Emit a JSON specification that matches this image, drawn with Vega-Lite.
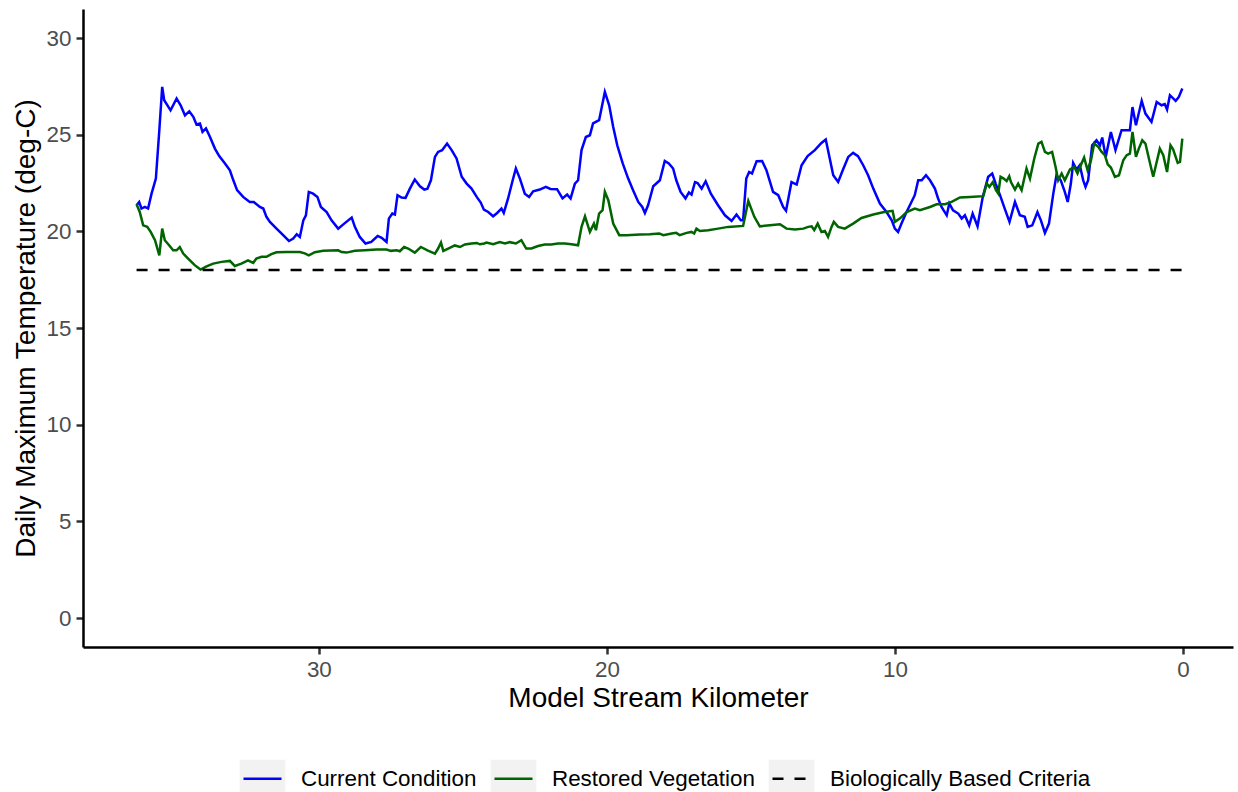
{
"$schema": "https://vega.github.io/schema/vega-lite/v6.json",
"width": 1150, "height": 638,
"autosize": "none",
"padding": {"left": 83, "top": 9, "right": 5, "bottom": 145},
"background": "white",
"config": {"view": {"stroke": null}, "font": "Liberation Sans"},
"data": {"values": [
{"km":36.33,"t":21.35,"s":"Current Condition"},{"km":36.24,"t":21.52,"s":"Current Condition"},{"km":36.16,"t":21.18,"s":"Current Condition"},{"km":36.04,"t":21.26,"s":"Current Condition"},{"km":35.93,"t":21.18,"s":"Current Condition"},{"km":35.81,"t":21.95,"s":"Current Condition"},{"km":35.66,"t":22.73,"s":"Current Condition"},{"km":35.54,"t":25.23,"s":"Current Condition"},{"km":35.44,"t":27.47,"s":"Current Condition"},{"km":35.37,"t":26.78,"s":"Current Condition"},{"km":35.15,"t":26.26,"s":"Current Condition"},{"km":34.94,"t":26.87,"s":"Current Condition"},{"km":34.80,"t":26.52,"s":"Current Condition"},{"km":34.65,"t":26.00,"s":"Current Condition"},{"km":34.50,"t":26.21,"s":"Current Condition"},{"km":34.36,"t":25.92,"s":"Current Condition"},{"km":34.25,"t":25.53,"s":"Current Condition"},{"km":34.13,"t":25.58,"s":"Current Condition"},{"km":34.04,"t":25.14,"s":"Current Condition"},{"km":33.92,"t":25.32,"s":"Current Condition"},{"km":33.78,"t":24.88,"s":"Current Condition"},{"km":33.61,"t":24.28,"s":"Current Condition"},{"km":33.46,"t":23.89,"s":"Current Condition"},{"km":33.26,"t":23.51,"s":"Current Condition"},{"km":33.09,"t":23.16,"s":"Current Condition"},{"km":32.97,"t":22.64,"s":"Current Condition"},{"km":32.84,"t":22.13,"s":"Current Condition"},{"km":32.63,"t":21.78,"s":"Current Condition"},{"km":32.40,"t":21.52,"s":"Current Condition"},{"km":32.26,"t":21.52,"s":"Current Condition"},{"km":32.05,"t":21.26,"s":"Current Condition"},{"km":31.93,"t":21.18,"s":"Current Condition"},{"km":31.82,"t":20.75,"s":"Current Condition"},{"km":31.70,"t":20.49,"s":"Current Condition"},{"km":31.47,"t":20.14,"s":"Current Condition"},{"km":31.24,"t":19.80,"s":"Current Condition"},{"km":31.04,"t":19.50,"s":"Current Condition"},{"km":30.89,"t":19.63,"s":"Current Condition"},{"km":30.77,"t":19.85,"s":"Current Condition"},{"km":30.66,"t":19.71,"s":"Current Condition"},{"km":30.54,"t":20.57,"s":"Current Condition"},{"km":30.45,"t":20.83,"s":"Current Condition"},{"km":30.35,"t":22.04,"s":"Current Condition"},{"km":30.20,"t":21.95,"s":"Current Condition"},{"km":30.05,"t":21.78,"s":"Current Condition"},{"km":29.93,"t":21.26,"s":"Current Condition"},{"km":29.73,"t":21.00,"s":"Current Condition"},{"km":29.56,"t":20.57,"s":"Current Condition"},{"km":29.33,"t":20.14,"s":"Current Condition"},{"km":29.12,"t":20.40,"s":"Current Condition"},{"km":28.86,"t":20.71,"s":"Current Condition"},{"km":28.75,"t":20.23,"s":"Current Condition"},{"km":28.58,"t":19.71,"s":"Current Condition"},{"km":28.38,"t":19.37,"s":"Current Condition"},{"km":28.18,"t":19.45,"s":"Current Condition"},{"km":27.96,"t":19.76,"s":"Current Condition"},{"km":27.82,"t":19.66,"s":"Current Condition"},{"km":27.65,"t":19.45,"s":"Current Condition"},{"km":27.57,"t":20.66,"s":"Current Condition"},{"km":27.45,"t":20.92,"s":"Current Condition"},{"km":27.36,"t":20.87,"s":"Current Condition"},{"km":27.27,"t":21.87,"s":"Current Condition"},{"km":27.13,"t":21.75,"s":"Current Condition"},{"km":26.99,"t":21.73,"s":"Current Condition"},{"km":26.84,"t":22.21,"s":"Current Condition"},{"km":26.67,"t":22.68,"s":"Current Condition"},{"km":26.49,"t":22.33,"s":"Current Condition"},{"km":26.34,"t":22.16,"s":"Current Condition"},{"km":26.23,"t":22.21,"s":"Current Condition"},{"km":26.11,"t":22.64,"s":"Current Condition"},{"km":25.97,"t":23.85,"s":"Current Condition"},{"km":25.86,"t":24.11,"s":"Current Condition"},{"km":25.72,"t":24.20,"s":"Current Condition"},{"km":25.55,"t":24.54,"s":"Current Condition"},{"km":25.39,"t":24.20,"s":"Current Condition"},{"km":25.22,"t":23.77,"s":"Current Condition"},{"km":25.04,"t":22.82,"s":"Current Condition"},{"km":24.87,"t":22.47,"s":"Current Condition"},{"km":24.70,"t":22.21,"s":"Current Condition"},{"km":24.52,"t":21.78,"s":"Current Condition"},{"km":24.38,"t":21.49,"s":"Current Condition"},{"km":24.27,"t":21.12,"s":"Current Condition"},{"km":24.12,"t":21.00,"s":"Current Condition"},{"km":23.95,"t":20.78,"s":"Current Condition"},{"km":23.81,"t":20.95,"s":"Current Condition"},{"km":23.66,"t":21.18,"s":"Current Condition"},{"km":23.58,"t":20.95,"s":"Current Condition"},{"km":23.43,"t":21.70,"s":"Current Condition"},{"km":23.27,"t":22.64,"s":"Current Condition"},{"km":23.16,"t":23.25,"s":"Current Condition"},{"km":23.02,"t":22.73,"s":"Current Condition"},{"km":22.85,"t":21.95,"s":"Current Condition"},{"km":22.70,"t":21.78,"s":"Current Condition"},{"km":22.56,"t":22.07,"s":"Current Condition"},{"km":22.33,"t":22.16,"s":"Current Condition"},{"km":22.12,"t":22.30,"s":"Current Condition"},{"km":21.96,"t":22.19,"s":"Current Condition"},{"km":21.73,"t":22.18,"s":"Current Condition"},{"km":21.54,"t":21.70,"s":"Current Condition"},{"km":21.38,"t":21.90,"s":"Current Condition"},{"km":21.26,"t":21.70,"s":"Current Condition"},{"km":21.11,"t":22.47,"s":"Current Condition"},{"km":21.00,"t":22.64,"s":"Current Condition"},{"km":20.88,"t":24.20,"s":"Current Condition"},{"km":20.73,"t":24.88,"s":"Current Condition"},{"km":20.59,"t":24.97,"s":"Current Condition"},{"km":20.48,"t":25.58,"s":"Current Condition"},{"km":20.27,"t":25.75,"s":"Current Condition"},{"km":20.07,"t":27.21,"s":"Current Condition"},{"km":19.92,"t":26.52,"s":"Current Condition"},{"km":19.78,"t":25.40,"s":"Current Condition"},{"km":19.64,"t":24.45,"s":"Current Condition"},{"km":19.45,"t":23.51,"s":"Current Condition"},{"km":19.26,"t":22.73,"s":"Current Condition"},{"km":19.09,"t":22.13,"s":"Current Condition"},{"km":18.91,"t":21.52,"s":"Current Condition"},{"km":18.77,"t":21.26,"s":"Current Condition"},{"km":18.68,"t":20.95,"s":"Current Condition"},{"km":18.57,"t":21.35,"s":"Current Condition"},{"km":18.39,"t":22.33,"s":"Current Condition"},{"km":18.16,"t":22.64,"s":"Current Condition"},{"km":17.99,"t":23.64,"s":"Current Condition"},{"km":17.85,"t":23.51,"s":"Current Condition"},{"km":17.70,"t":23.25,"s":"Current Condition"},{"km":17.59,"t":22.64,"s":"Current Condition"},{"km":17.44,"t":22.04,"s":"Current Condition"},{"km":17.27,"t":21.70,"s":"Current Condition"},{"km":17.15,"t":22.01,"s":"Current Condition"},{"km":17.06,"t":21.90,"s":"Current Condition"},{"km":16.94,"t":22.55,"s":"Current Condition"},{"km":16.85,"t":22.50,"s":"Current Condition"},{"km":16.71,"t":22.21,"s":"Current Condition"},{"km":16.57,"t":22.59,"s":"Current Condition"},{"km":16.39,"t":21.95,"s":"Current Condition"},{"km":16.14,"t":21.35,"s":"Current Condition"},{"km":15.90,"t":20.83,"s":"Current Condition"},{"km":15.67,"t":20.54,"s":"Current Condition"},{"km":15.50,"t":20.87,"s":"Current Condition"},{"km":15.35,"t":20.57,"s":"Current Condition"},{"km":15.27,"t":20.57,"s":"Current Condition"},{"km":15.16,"t":22.73,"s":"Current Condition"},{"km":15.06,"t":23.07,"s":"Current Condition"},{"km":14.96,"t":22.99,"s":"Current Condition"},{"km":14.80,"t":23.63,"s":"Current Condition"},{"km":14.61,"t":23.64,"s":"Current Condition"},{"km":14.46,"t":23.16,"s":"Current Condition"},{"km":14.23,"t":22.04,"s":"Current Condition"},{"km":14.05,"t":21.87,"s":"Current Condition"},{"km":13.88,"t":21.26,"s":"Current Condition"},{"km":13.78,"t":21.06,"s":"Current Condition"},{"km":13.59,"t":22.55,"s":"Current Condition"},{"km":13.41,"t":22.42,"s":"Current Condition"},{"km":13.24,"t":23.42,"s":"Current Condition"},{"km":13.03,"t":23.89,"s":"Current Condition"},{"km":12.78,"t":24.20,"s":"Current Condition"},{"km":12.55,"t":24.57,"s":"Current Condition"},{"km":12.40,"t":24.75,"s":"Current Condition"},{"km":12.14,"t":22.90,"s":"Current Condition"},{"km":11.97,"t":22.55,"s":"Current Condition"},{"km":11.80,"t":23.20,"s":"Current Condition"},{"km":11.62,"t":23.85,"s":"Current Condition"},{"km":11.45,"t":24.06,"s":"Current Condition"},{"km":11.28,"t":23.89,"s":"Current Condition"},{"km":11.10,"t":23.42,"s":"Current Condition"},{"km":10.93,"t":22.90,"s":"Current Condition"},{"km":10.75,"t":22.21,"s":"Current Condition"},{"km":10.52,"t":21.44,"s":"Current Condition"},{"km":10.29,"t":21.00,"s":"Current Condition"},{"km":10.11,"t":20.57,"s":"Current Condition"},{"km":10.00,"t":20.14,"s":"Current Condition"},{"km":9.89,"t":19.97,"s":"Current Condition"},{"km":9.77,"t":20.40,"s":"Current Condition"},{"km":9.62,"t":20.92,"s":"Current Condition"},{"km":9.45,"t":21.44,"s":"Current Condition"},{"km":9.31,"t":21.87,"s":"Current Condition"},{"km":9.19,"t":22.64,"s":"Current Condition"},{"km":9.07,"t":22.64,"s":"Current Condition"},{"km":8.92,"t":22.90,"s":"Current Condition"},{"km":8.78,"t":22.64,"s":"Current Condition"},{"km":8.61,"t":22.21,"s":"Current Condition"},{"km":8.50,"t":21.70,"s":"Current Condition"},{"km":8.38,"t":21.26,"s":"Current Condition"},{"km":8.20,"t":20.83,"s":"Current Condition"},{"km":8.11,"t":21.44,"s":"Current Condition"},{"km":7.98,"t":21.09,"s":"Current Condition"},{"km":7.80,"t":20.92,"s":"Current Condition"},{"km":7.68,"t":20.66,"s":"Current Condition"},{"km":7.57,"t":20.83,"s":"Current Condition"},{"km":7.42,"t":20.31,"s":"Current Condition"},{"km":7.30,"t":20.92,"s":"Current Condition"},{"km":7.13,"t":20.26,"s":"Current Condition"},{"km":6.95,"t":21.78,"s":"Current Condition"},{"km":6.76,"t":22.82,"s":"Current Condition"},{"km":6.62,"t":22.99,"s":"Current Condition"},{"km":6.50,"t":22.47,"s":"Current Condition"},{"km":6.35,"t":21.87,"s":"Current Condition"},{"km":6.18,"t":21.15,"s":"Current Condition"},{"km":6.02,"t":20.49,"s":"Current Condition"},{"km":5.83,"t":21.52,"s":"Current Condition"},{"km":5.66,"t":20.83,"s":"Current Condition"},{"km":5.49,"t":20.75,"s":"Current Condition"},{"km":5.39,"t":20.23,"s":"Current Condition"},{"km":5.23,"t":20.31,"s":"Current Condition"},{"km":5.05,"t":21.00,"s":"Current Condition"},{"km":4.93,"t":20.57,"s":"Current Condition"},{"km":4.79,"t":19.92,"s":"Current Condition"},{"km":4.65,"t":20.40,"s":"Current Condition"},{"km":4.50,"t":21.95,"s":"Current Condition"},{"km":4.39,"t":22.90,"s":"Current Condition"},{"km":4.24,"t":22.64,"s":"Current Condition"},{"km":4.10,"t":22.04,"s":"Current Condition"},{"km":4.00,"t":21.52,"s":"Current Condition"},{"km":3.89,"t":22.47,"s":"Current Condition"},{"km":3.81,"t":23.54,"s":"Current Condition"},{"km":3.69,"t":23.20,"s":"Current Condition"},{"km":3.58,"t":23.42,"s":"Current Condition"},{"km":3.46,"t":22.64,"s":"Current Condition"},{"km":3.38,"t":22.30,"s":"Current Condition"},{"km":3.29,"t":22.64,"s":"Current Condition"},{"km":3.15,"t":24.45,"s":"Current Condition"},{"km":3.00,"t":24.71,"s":"Current Condition"},{"km":2.88,"t":24.45,"s":"Current Condition"},{"km":2.80,"t":24.85,"s":"Current Condition"},{"km":2.68,"t":23.85,"s":"Current Condition"},{"km":2.50,"t":25.14,"s":"Current Condition"},{"km":2.34,"t":24.20,"s":"Current Condition"},{"km":2.13,"t":25.23,"s":"Current Condition"},{"km":1.84,"t":25.23,"s":"Current Condition"},{"km":1.75,"t":26.43,"s":"Current Condition"},{"km":1.63,"t":25.49,"s":"Current Condition"},{"km":1.43,"t":26.75,"s":"Current Condition"},{"km":1.30,"t":26.09,"s":"Current Condition"},{"km":1.09,"t":25.66,"s":"Current Condition"},{"km":0.91,"t":26.69,"s":"Current Condition"},{"km":0.74,"t":26.52,"s":"Current Condition"},{"km":0.63,"t":26.58,"s":"Current Condition"},{"km":0.55,"t":26.30,"s":"Current Condition"},{"km":0.45,"t":27.04,"s":"Current Condition"},{"km":0.25,"t":26.75,"s":"Current Condition"},{"km":0.14,"t":26.95,"s":"Current Condition"},{"km":0.02,"t":27.39,"s":"Current Condition"},
{"km":36.33,"t":21.40,"s":"Restored Vegetation"},{"km":36.22,"t":21.00,"s":"Restored Vegetation"},{"km":36.10,"t":20.31,"s":"Restored Vegetation"},{"km":35.96,"t":20.23,"s":"Restored Vegetation"},{"km":35.84,"t":19.97,"s":"Restored Vegetation"},{"km":35.69,"t":19.54,"s":"Restored Vegetation"},{"km":35.54,"t":18.76,"s":"Restored Vegetation"},{"km":35.44,"t":20.14,"s":"Restored Vegetation"},{"km":35.35,"t":19.54,"s":"Restored Vegetation"},{"km":35.20,"t":19.28,"s":"Restored Vegetation"},{"km":35.06,"t":19.02,"s":"Restored Vegetation"},{"km":34.94,"t":19.02,"s":"Restored Vegetation"},{"km":34.83,"t":19.19,"s":"Restored Vegetation"},{"km":34.71,"t":18.85,"s":"Restored Vegetation"},{"km":34.54,"t":18.59,"s":"Restored Vegetation"},{"km":34.31,"t":18.25,"s":"Restored Vegetation"},{"km":34.11,"t":18.02,"s":"Restored Vegetation"},{"km":33.90,"t":18.19,"s":"Restored Vegetation"},{"km":33.67,"t":18.33,"s":"Restored Vegetation"},{"km":33.38,"t":18.42,"s":"Restored Vegetation"},{"km":33.09,"t":18.47,"s":"Restored Vegetation"},{"km":32.92,"t":18.21,"s":"Restored Vegetation"},{"km":32.69,"t":18.33,"s":"Restored Vegetation"},{"km":32.46,"t":18.50,"s":"Restored Vegetation"},{"km":32.28,"t":18.37,"s":"Restored Vegetation"},{"km":32.17,"t":18.59,"s":"Restored Vegetation"},{"km":31.99,"t":18.68,"s":"Restored Vegetation"},{"km":31.82,"t":18.68,"s":"Restored Vegetation"},{"km":31.65,"t":18.82,"s":"Restored Vegetation"},{"km":31.47,"t":18.92,"s":"Restored Vegetation"},{"km":31.12,"t":18.93,"s":"Restored Vegetation"},{"km":30.66,"t":18.93,"s":"Restored Vegetation"},{"km":30.49,"t":18.86,"s":"Restored Vegetation"},{"km":30.35,"t":18.76,"s":"Restored Vegetation"},{"km":30.14,"t":18.92,"s":"Restored Vegetation"},{"km":29.85,"t":18.99,"s":"Restored Vegetation"},{"km":29.33,"t":19.02,"s":"Restored Vegetation"},{"km":29.21,"t":18.93,"s":"Restored Vegetation"},{"km":29.04,"t":18.90,"s":"Restored Vegetation"},{"km":28.75,"t":18.99,"s":"Restored Vegetation"},{"km":28.40,"t":19.02,"s":"Restored Vegetation"},{"km":28.00,"t":19.06,"s":"Restored Vegetation"},{"km":27.65,"t":19.06,"s":"Restored Vegetation"},{"km":27.50,"t":18.99,"s":"Restored Vegetation"},{"km":27.30,"t":19.02,"s":"Restored Vegetation"},{"km":27.19,"t":18.97,"s":"Restored Vegetation"},{"km":27.04,"t":19.19,"s":"Restored Vegetation"},{"km":26.90,"t":19.11,"s":"Restored Vegetation"},{"km":26.67,"t":18.90,"s":"Restored Vegetation"},{"km":26.46,"t":19.19,"s":"Restored Vegetation"},{"km":26.23,"t":19.02,"s":"Restored Vegetation"},{"km":25.97,"t":18.85,"s":"Restored Vegetation"},{"km":25.86,"t":19.11,"s":"Restored Vegetation"},{"km":25.76,"t":19.42,"s":"Restored Vegetation"},{"km":25.68,"t":18.99,"s":"Restored Vegetation"},{"km":25.51,"t":19.11,"s":"Restored Vegetation"},{"km":25.28,"t":19.27,"s":"Restored Vegetation"},{"km":25.10,"t":19.19,"s":"Restored Vegetation"},{"km":24.93,"t":19.32,"s":"Restored Vegetation"},{"km":24.70,"t":19.37,"s":"Restored Vegetation"},{"km":24.52,"t":19.40,"s":"Restored Vegetation"},{"km":24.41,"t":19.33,"s":"Restored Vegetation"},{"km":24.26,"t":19.37,"s":"Restored Vegetation"},{"km":24.18,"t":19.42,"s":"Restored Vegetation"},{"km":23.95,"t":19.33,"s":"Restored Vegetation"},{"km":23.72,"t":19.44,"s":"Restored Vegetation"},{"km":23.54,"t":19.37,"s":"Restored Vegetation"},{"km":23.37,"t":19.44,"s":"Restored Vegetation"},{"km":23.16,"t":19.37,"s":"Restored Vegetation"},{"km":22.97,"t":19.54,"s":"Restored Vegetation"},{"km":22.80,"t":19.11,"s":"Restored Vegetation"},{"km":22.62,"t":19.11,"s":"Restored Vegetation"},{"km":22.39,"t":19.24,"s":"Restored Vegetation"},{"km":22.16,"t":19.32,"s":"Restored Vegetation"},{"km":21.93,"t":19.32,"s":"Restored Vegetation"},{"km":21.70,"t":19.37,"s":"Restored Vegetation"},{"km":21.46,"t":19.37,"s":"Restored Vegetation"},{"km":21.23,"t":19.33,"s":"Restored Vegetation"},{"km":21.00,"t":19.28,"s":"Restored Vegetation"},{"km":20.88,"t":20.23,"s":"Restored Vegetation"},{"km":20.76,"t":20.78,"s":"Restored Vegetation"},{"km":20.59,"t":19.97,"s":"Restored Vegetation"},{"km":20.45,"t":20.40,"s":"Restored Vegetation"},{"km":20.38,"t":20.06,"s":"Restored Vegetation"},{"km":20.27,"t":20.92,"s":"Restored Vegetation"},{"km":20.15,"t":21.09,"s":"Restored Vegetation"},{"km":20.07,"t":22.04,"s":"Restored Vegetation"},{"km":19.95,"t":21.61,"s":"Restored Vegetation"},{"km":19.78,"t":20.40,"s":"Restored Vegetation"},{"km":19.57,"t":19.80,"s":"Restored Vegetation"},{"km":19.32,"t":19.80,"s":"Restored Vegetation"},{"km":18.85,"t":19.83,"s":"Restored Vegetation"},{"km":18.51,"t":19.85,"s":"Restored Vegetation"},{"km":18.18,"t":19.89,"s":"Restored Vegetation"},{"km":18.04,"t":19.80,"s":"Restored Vegetation"},{"km":17.75,"t":19.89,"s":"Restored Vegetation"},{"km":17.59,"t":19.92,"s":"Restored Vegetation"},{"km":17.47,"t":19.80,"s":"Restored Vegetation"},{"km":17.23,"t":19.92,"s":"Restored Vegetation"},{"km":17.06,"t":19.97,"s":"Restored Vegetation"},{"km":16.97,"t":19.89,"s":"Restored Vegetation"},{"km":16.89,"t":20.14,"s":"Restored Vegetation"},{"km":16.77,"t":20.02,"s":"Restored Vegetation"},{"km":16.48,"t":20.06,"s":"Restored Vegetation"},{"km":16.14,"t":20.14,"s":"Restored Vegetation"},{"km":15.79,"t":20.23,"s":"Restored Vegetation"},{"km":15.27,"t":20.28,"s":"Restored Vegetation"},{"km":15.09,"t":21.57,"s":"Restored Vegetation"},{"km":14.88,"t":20.75,"s":"Restored Vegetation"},{"km":14.69,"t":20.26,"s":"Restored Vegetation"},{"km":14.34,"t":20.31,"s":"Restored Vegetation"},{"km":13.99,"t":20.37,"s":"Restored Vegetation"},{"km":13.76,"t":20.14,"s":"Restored Vegetation"},{"km":13.47,"t":20.09,"s":"Restored Vegetation"},{"km":13.18,"t":20.14,"s":"Restored Vegetation"},{"km":13.01,"t":20.23,"s":"Restored Vegetation"},{"km":12.89,"t":20.26,"s":"Restored Vegetation"},{"km":12.80,"t":20.06,"s":"Restored Vegetation"},{"km":12.68,"t":20.40,"s":"Restored Vegetation"},{"km":12.55,"t":19.97,"s":"Restored Vegetation"},{"km":12.43,"t":20.02,"s":"Restored Vegetation"},{"km":12.32,"t":19.71,"s":"Restored Vegetation"},{"km":12.20,"t":20.23,"s":"Restored Vegetation"},{"km":12.12,"t":20.49,"s":"Restored Vegetation"},{"km":11.97,"t":20.23,"s":"Restored Vegetation"},{"km":11.74,"t":20.14,"s":"Restored Vegetation"},{"km":11.45,"t":20.40,"s":"Restored Vegetation"},{"km":11.16,"t":20.69,"s":"Restored Vegetation"},{"km":10.75,"t":20.87,"s":"Restored Vegetation"},{"km":10.41,"t":20.99,"s":"Restored Vegetation"},{"km":10.08,"t":21.06,"s":"Restored Vegetation"},{"km":10.00,"t":20.49,"s":"Restored Vegetation"},{"km":9.83,"t":20.66,"s":"Restored Vegetation"},{"km":9.59,"t":21.00,"s":"Restored Vegetation"},{"km":9.31,"t":21.18,"s":"Restored Vegetation"},{"km":9.13,"t":21.09,"s":"Restored Vegetation"},{"km":8.78,"t":21.26,"s":"Restored Vegetation"},{"km":8.55,"t":21.40,"s":"Restored Vegetation"},{"km":8.26,"t":21.40,"s":"Restored Vegetation"},{"km":8.03,"t":21.52,"s":"Restored Vegetation"},{"km":7.74,"t":21.75,"s":"Restored Vegetation"},{"km":7.40,"t":21.78,"s":"Restored Vegetation"},{"km":6.93,"t":21.82,"s":"Restored Vegetation"},{"km":6.81,"t":22.47,"s":"Restored Vegetation"},{"km":6.72,"t":22.30,"s":"Restored Vegetation"},{"km":6.60,"t":22.55,"s":"Restored Vegetation"},{"km":6.49,"t":22.13,"s":"Restored Vegetation"},{"km":6.41,"t":21.95,"s":"Restored Vegetation"},{"km":6.33,"t":22.82,"s":"Restored Vegetation"},{"km":6.22,"t":22.73,"s":"Restored Vegetation"},{"km":6.12,"t":22.60,"s":"Restored Vegetation"},{"km":6.03,"t":22.85,"s":"Restored Vegetation"},{"km":5.97,"t":22.55,"s":"Restored Vegetation"},{"km":5.83,"t":22.16,"s":"Restored Vegetation"},{"km":5.72,"t":22.47,"s":"Restored Vegetation"},{"km":5.60,"t":22.13,"s":"Restored Vegetation"},{"km":5.43,"t":23.25,"s":"Restored Vegetation"},{"km":5.31,"t":22.73,"s":"Restored Vegetation"},{"km":5.16,"t":23.77,"s":"Restored Vegetation"},{"km":5.02,"t":24.54,"s":"Restored Vegetation"},{"km":4.91,"t":24.63,"s":"Restored Vegetation"},{"km":4.79,"t":24.11,"s":"Restored Vegetation"},{"km":4.68,"t":24.02,"s":"Restored Vegetation"},{"km":4.54,"t":24.11,"s":"Restored Vegetation"},{"km":4.42,"t":23.33,"s":"Restored Vegetation"},{"km":4.33,"t":22.64,"s":"Restored Vegetation"},{"km":4.21,"t":22.99,"s":"Restored Vegetation"},{"km":4.10,"t":22.64,"s":"Restored Vegetation"},{"km":3.92,"t":23.20,"s":"Restored Vegetation"},{"km":3.77,"t":23.33,"s":"Restored Vegetation"},{"km":3.66,"t":22.99,"s":"Restored Vegetation"},{"km":3.52,"t":23.51,"s":"Restored Vegetation"},{"km":3.43,"t":23.82,"s":"Restored Vegetation"},{"km":3.31,"t":23.16,"s":"Restored Vegetation"},{"km":3.19,"t":23.68,"s":"Restored Vegetation"},{"km":3.08,"t":24.54,"s":"Restored Vegetation"},{"km":2.94,"t":24.37,"s":"Restored Vegetation"},{"km":2.82,"t":24.11,"s":"Restored Vegetation"},{"km":2.71,"t":23.94,"s":"Restored Vegetation"},{"km":2.61,"t":23.47,"s":"Restored Vegetation"},{"km":2.50,"t":23.30,"s":"Restored Vegetation"},{"km":2.36,"t":22.82,"s":"Restored Vegetation"},{"km":2.22,"t":22.90,"s":"Restored Vegetation"},{"km":2.07,"t":23.68,"s":"Restored Vegetation"},{"km":1.95,"t":23.94,"s":"Restored Vegetation"},{"km":1.84,"t":24.02,"s":"Restored Vegetation"},{"km":1.75,"t":25.14,"s":"Restored Vegetation"},{"km":1.63,"t":23.85,"s":"Restored Vegetation"},{"km":1.53,"t":24.28,"s":"Restored Vegetation"},{"km":1.41,"t":24.71,"s":"Restored Vegetation"},{"km":1.30,"t":24.54,"s":"Restored Vegetation"},{"km":1.18,"t":23.77,"s":"Restored Vegetation"},{"km":1.03,"t":22.82,"s":"Restored Vegetation"},{"km":0.91,"t":23.59,"s":"Restored Vegetation"},{"km":0.80,"t":24.28,"s":"Restored Vegetation"},{"km":0.68,"t":23.94,"s":"Restored Vegetation"},{"km":0.55,"t":23.07,"s":"Restored Vegetation"},{"km":0.43,"t":24.45,"s":"Restored Vegetation"},{"km":0.34,"t":24.24,"s":"Restored Vegetation"},{"km":0.18,"t":23.54,"s":"Restored Vegetation"},{"km":0.10,"t":23.59,"s":"Restored Vegetation"},{"km":0.02,"t":24.80,"s":"Restored Vegetation"},
{"km":36.33,"t":18.0,"s":"Biologically Based Criteria"},{"km":0.0,"t":18.0,"s":"Biologically Based Criteria"}
]},
"encoding": {
  "x": {"field": "km", "type": "quantitative",
        "scale": {"domain": [-1.74, 38.19], "reverse": true, "nice": false, "zero": false},
        "axis": {"values": [0, 10, 20, 30], "title": "Model Stream Kilometer", "grid": false,
                 "domainColor": "black", "domainWidth": 2.5, "tickColor": "#333333", "tickWidth": 2.5, "tickSize": 7,
                 "labelFontSize": 22.4, "labelColor": "#4D4D4D", "labelPadding": 4, "labelFont": "Liberation Sans",
                 "titleFontSize": 28, "titleFontWeight": "normal", "titleColor": "black", "titleFont": "Liberation Sans",
                 "titleX": 575, "titleY": 51, "titleBaseline": "middle"}},
  "y": {"field": "t", "type": "quantitative",
        "scale": {"domain": [-1.5, 31.5], "nice": false, "zero": false},
        "axis": {"values": [0, 5, 10, 15, 20, 25, 30], "title": "Daily Maximum Temperature (deg-C)", "grid": false,
                 "domainColor": "black", "domainWidth": 2.5, "tickColor": "#333333", "tickWidth": 2.5, "tickSize": 7,
                 "labelFontSize": 22.4, "labelColor": "#4D4D4D", "labelPadding": 5, "labelFont": "Liberation Sans",
                 "titleFontSize": 28, "titleFontWeight": "normal", "titleColor": "black", "titleFont": "Liberation Sans",
                 "titleX": -57, "titleY": 319, "titleAngle": -90, "titleBaseline": "middle", "titleAlign": "center"}},
  "color": {"field": "s", "type": "nominal",
            "scale": {"domain": ["Current Condition", "Restored Vegetation", "Biologically Based Criteria"],
                      "range": ["#0000FF", "#006400", "#000000"]},
            "legend": {"orient": "none", "legendX": 159, "legendY": 749, "direction": "horizontal", "title": null,
                       "labelFontSize": 22.4, "labelFont": "Liberation Sans", "labelColor": "black", "labelLimit": 600,
                       "symbolType": "M-1,0H1.2V-1H-1.2V1H1.2V0Z", "symbolSize": 1444, "symbolStrokeWidth": 2.5,
                       "symbolFillColor": "#F2F2F2",
                       "labelOffset": 18, "columnPadding": 8, "padding": 0,
                       "encode": {"symbols": {"update": {
                          "shape": {"value": "M-1,0H1.2V-1H-1.2V1H1.2V0Z"},
                          "fill": {"value": "#F2F2F2"},
                          "fillOpacity": {"value": 1},
                          "strokeWidth": {"value": 2.5},
                          "strokeDash": {"signal": "datum.value == 'Biologically Based Criteria' ? [11, 11, 11, 400] : [38, 400]"}
                       }}}}}
},
"layer": [
  {"transform": [{"filter": "datum.s != 'Biologically Based Criteria'"}],
   "mark": {"type": "line", "strokeWidth": 2.5}},
  {"transform": [{"filter": "datum.s == 'Biologically Based Criteria'"}],
   "mark": {"type": "line", "strokeWidth": 2.5, "strokeDash": [11, 11]}}
]
}
